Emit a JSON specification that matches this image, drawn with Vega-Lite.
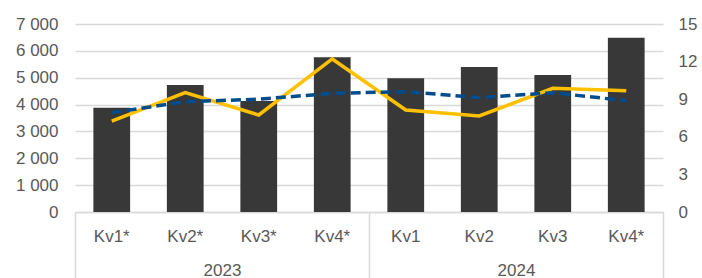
{
  "$schema": "https://vega.github.io/schema/vega-lite/v6.json",
  "autosize": {"type": "none"},
  "padding": {"left": 75, "top": 24, "right": 39, "bottom": 66},
  "width": 588,
  "height": 188,
  "config": {
    "view": {"stroke": null},
    "font": "Liberation Sans",
    "axis": {"labelFont": "Liberation Sans", "labelFontSize": 17, "labelColor": "#595959", "title": null}
  },
  "data": {
    "values": [
      {"q": "2023 Kv1*", "year": "2023", "bars": 3880, "yellow": 7.26, "blue": 7.93},
      {"q": "2023 Kv2*", "year": "2023", "bars": 4730, "yellow": 9.52, "blue": 8.8},
      {"q": "2023 Kv3*", "year": "2023", "bars": 4130, "yellow": 7.74, "blue": 9.0},
      {"q": "2023 Kv4*", "year": "2023", "bars": 5760, "yellow": 12.21, "blue": 9.47},
      {"q": "2024 Kv1", "year": "2024", "bars": 4980, "yellow": 8.14, "blue": 9.6},
      {"q": "2024 Kv2", "year": "2024", "bars": 5400, "yellow": 7.66, "blue": 9.12},
      {"q": "2024 Kv3", "year": "2024", "bars": 5100, "yellow": 9.87, "blue": 9.52},
      {"q": "2024 Kv4*", "year": "2024", "bars": 6490, "yellow": 9.68, "blue": 8.88}
    ]
  },
  "layer": [
    {
      "layer": [
        {
          "mark": {"type": "bar", "width": {"band": 0.5}, "color": "#383838"},
          "encoding": {
            "x": {
              "field": "q", "type": "nominal", "sort": null,
              "scale": {"paddingInner": 0, "paddingOuter": 0},
              "axis": {"orient": "bottom", "labelExpr": "split(datum.value, ' ')[1]", "labelAngle": 0, "ticks": false, "domainColor": "#d9d9d9", "domainWidth": 1.5, "labelPadding": 16, "title": null}
            },
            "y": {
              "field": "bars", "type": "quantitative",
              "scale": {"domain": [0, 7000]},
              "axis": {"orient": "left", "values": [0, 1000, 2000, 3000, 4000, 5000, 6000, 7000], "labelExpr": "replace(format(datum.value, ','), ',', ' ')", "grid": true, "gridColor": "#d9d9d9", "gridWidth": 1.5, "domain": false, "ticks": false, "labelPadding": 17, "title": null}
            }
          }
        },
        {
          "encoding": {
            "x": {"field": "q", "type": "nominal", "sort": null},
            "y": {"type": "quantitative", "scale": {"domain": [0, 15]}, "axis": {"orient": "right", "values": [0, 3, 6, 9, 12, 15], "grid": false, "domain": false, "ticks": false, "labelPadding": 15, "title": null}}
          },
          "layer": [
            {
              "mark": {"type": "line", "color": "#FFC000", "strokeWidth": 3.5},
              "encoding": {"y": {"field": "yellow", "type": "quantitative"}}
            },
            {
              "mark": {"type": "line", "color": "#004C8C", "strokeWidth": 3.5, "strokeDash": [10, 5]},
              "encoding": {"y": {"field": "blue", "type": "quantitative"}}
            }
          ]
        }
      ],
      "resolve": {"scale": {"y": "independent"}}
    },
    {
      "mark": {"type": "text", "text": ""},
      "encoding": {
        "x": {
          "field": "year", "type": "nominal",
          "scale": {"paddingInner": 0, "paddingOuter": 0},
          "axis": {"orient": "bottom", "tickBand": "extent", "tickSize": 66, "tickColor": "#d9d9d9", "tickWidth": 1.5, "domain": false, "labelPadding": -16, "labelAngle": 0, "title": null}
        }
      }
    }
  ],
  "resolve": {"scale": {"x": "independent"}}
}
